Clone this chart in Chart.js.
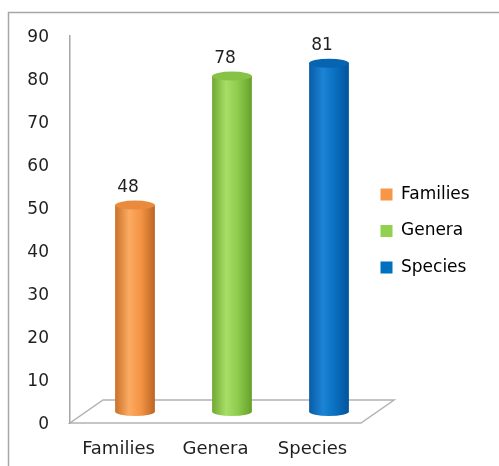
<!DOCTYPE html>
<html>
<head>
<meta charset="utf-8">
<script src="https://cdn.jsdelivr.net/npm/chart.js@4.4.0/dist/chart.umd.min.js"></script>
<style>
  html, body { margin: 0; padding: 0; background: #fff; }
</style>
</head>
<body>
<canvas id="chart" width="499" height="466"></canvas>
<script>
// chart data
const categories = ['Families', 'Genera', 'Species'];
const counts = [48, 78, 81];
const yTickValues = [0, 10, 20, 30, 40, 50, 60, 70, 80, 90];

// cylinder colours: [legend/base, left edge, highlight, mid, right edge, cap]
const shades = [
    ['#F79646', '#c9712b', '#fbab63', '#f49444', '#bb6524', '#e98a3d'],
    ['#92D050', '#6fa832', '#a8de68', '#8ecb4c', '#66a02a', '#86c246'],
    ['#0070C0', '#0a5ca6', '#1b84d4', '#0a70c0', '#04539a', '#0664b0']
];

const DX = 16.5, DY = 11.5, RY = 4.5;
const FONT = 'DejaVu Sans';
const TEXT = '#1f1f1f';

const cylinders = {
    id: 'cylinders',
    afterLayout(chart) {
        // legend sits a little above the middle in the original
        chart.legend.top -= 20;
        chart.legend.bottom -= 20;
    },
    beforeDraw(chart) {
        const { ctx, chartArea: a } = chart;
        ctx.save();
        ctx.fillStyle = '#fff';
        ctx.fillRect(0, 0, chart.width, chart.height);
        // outer frame
        ctx.strokeStyle = '#a6a6a6';
        ctx.lineWidth = 1.5;
        ctx.strokeRect(8.5, 12.5, chart.width, chart.height);
        // floor
        ctx.beginPath();
        ctx.moveTo(a.left, a.bottom);
        ctx.lineTo(a.right, a.bottom);
        ctx.lineTo(a.right + 2 * DX, a.bottom - 2 * DY);
        ctx.lineTo(a.left + 2 * DX, a.bottom - 2 * DY);
        ctx.closePath();
        ctx.strokeStyle = '#b3b3b3';
        ctx.stroke();
        ctx.restore();
    },
    beforeDatasetsDraw(chart) {
        const { ctx } = chart;
        const meta = chart.getDatasetMeta(0);
        ctx.save();
        meta.data.forEach((bar, i) => {
            const s = shades[i];
            const cx = bar.x + DX, top = bar.y - DY, bottom = bar.base - DY, r = bar.width / 2;
            const g = ctx.createLinearGradient(cx - r, 0, cx + r, 0);
            g.addColorStop(0, s[1]);
            g.addColorStop(0.35, s[2]);
            g.addColorStop(0.65, s[3]);
            g.addColorStop(1, s[4]);
            ctx.beginPath();
            ctx.moveTo(cx - r, top);
            ctx.lineTo(cx - r, bottom);
            ctx.ellipse(cx, bottom, r, RY, 0, Math.PI, 0, true);
            ctx.lineTo(cx + r, top);
            ctx.closePath();
            ctx.fillStyle = g;
            ctx.fill();
            // top cap
            ctx.beginPath();
            ctx.ellipse(cx, top, r, RY, 0, 0, Math.PI * 2);
            ctx.fillStyle = s[5];
            ctx.fill();
            // value label
            ctx.fillStyle = TEXT;
            ctx.font = '17px "' + FONT + '"';
            ctx.textAlign = 'center';
            ctx.textBaseline = 'middle';
            ctx.fillText(String(counts[i]), cx - 7, top - 18);
        });
        ctx.restore();
        return false;
    }
};

const chart = new Chart(document.getElementById('chart'), {
    type: 'bar',
    data: {
        labels: categories,
        datasets: [{
            data: counts,
            backgroundColor: shades.map(s => s[0]),
            categoryPercentage: 1,
            barPercentage: 0.41
        }]
    },
    options: {
        responsive: false,
        animation: false,
        layout: { padding: { top: 36, left: 0, right: 18, bottom: 0 } },
        plugins: {
            tooltip: { enabled: false },
            legend: {
                position: 'right',
                align: 'center',
                labels: {
                    boxWidth: 12,
                    boxHeight: 12,
                    padding: 19.5,
                    color: TEXT,
                    font: { family: FONT, size: 17 },
                    generateLabels: () => categories.map((c, i) => ({
                        text: c,
                        fillStyle: shades[i][0],
                        strokeStyle: shades[i][0],
                        lineWidth: 0,
                        hidden: false,
                        index: i
                    }))
                }
            }
        },
        scales: {
            x: {
                grid: { display: false },
                border: { display: false },
                ticks: { color: TEXT, font: { family: FONT, size: 18 }, padding: 8 },
                afterFit: s => { s.height = 43; }
            },
            y: {
                min: 0,
                max: 90,
                grid: { display: false, drawTicks: false },
                border: { display: true, color: '#a6a6a6', width: 1.5 },
                afterBuildTicks: s => { s.ticks = yTickValues.map(v => ({ value: v })); },
                ticks: { color: TEXT, font: { family: FONT, size: 17 }, padding: 21, labelOffset: 2 },
                afterFit: s => { s.width = 70; }
            }
        }
    },
    plugins: [cylinders]
});

// keep the plot's right edge where the floor ends in the original
chart.options.layout.padding.right = Math.max(0, 138 - chart.legend.width);
chart.update();
</script>
</body>
</html>
